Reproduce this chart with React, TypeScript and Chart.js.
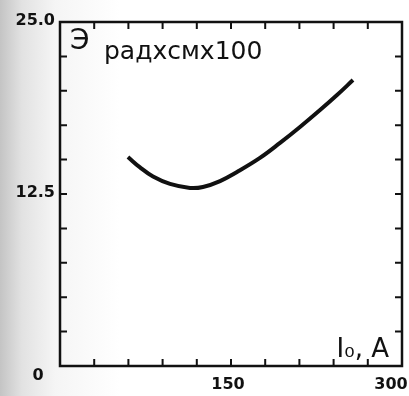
import React, { useEffect, useRef } from "react";
import { Chart, registerables } from "chart.js";

Chart.register(...registerables);

// Data (I0 in A, Э in рад×см×100)
const currentA = [59.6, 70.2, 81.6, 96.5, 114.0, 125.4, 140.4, 155.3, 175.4, 193.0, 210.5, 228.1, 243.0, 257.0];
const effectValues = [15.19, 14.43, 13.77, 13.23, 12.94, 13.01, 13.44, 14.1, 15.12, 16.21, 17.37, 18.6, 19.69, 20.78];

const xTickValues = [0, 30, 60, 90, 120, 150, 180, 210, 240, 270, 300];
const xTickLabels = ["0", "", "", "", "", "150", "", "", "", "", "300"];
const yTickValues = [0, 2.5, 5, 7.5, 10, 12.5, 15, 17.5, 20, 22.5, 25];
const yTickLabels = ["", "", "", "", "", "12.5", "", "", "", "", "25.0"];

const yAxisTitle = "радхсмх100";
const yAxisSymbol = "Э";
const xAxisTitle = "I₀, A";

const frame = {
  id: "frame",
  afterDraw(chart: any) {
    const ctx = chart.ctx;
    const a = chart.chartArea;
    const xs = chart.scales.x;
    const ys = chart.scales.y;
    ctx.save();
    ctx.strokeStyle = "#111";
    ctx.lineWidth = 2.5;
    ctx.strokeRect(a.left, a.top, a.right - a.left, a.bottom - a.top);
    const tl = 7;
    ctx.lineWidth = 2;
    ctx.beginPath();
    xTickValues.forEach((v, i) => {
      if (i === 0 || i === xTickValues.length - 1) return;
      const px = xs.getPixelForValue(v);
      ctx.moveTo(px, a.bottom);
      ctx.lineTo(px, a.bottom - tl);
      ctx.moveTo(px, a.top);
      ctx.lineTo(px, a.top + tl);
    });
    yTickValues.forEach((v, i) => {
      if (i === 0 || i === yTickValues.length - 1) return;
      const py = ys.getPixelForValue(v);
      ctx.moveTo(a.left, py);
      ctx.lineTo(a.left + tl, py);
      ctx.moveTo(a.right, py);
      ctx.lineTo(a.right - tl, py);
    });
    ctx.stroke();

    ctx.fillStyle = "#111";
    ctx.font = "bold 16px 'DejaVu Sans'";
    ctx.textBaseline = "middle";
    ctx.textAlign = "right";
    yTickValues.forEach((v, i) => {
      const t = yTickLabels[i];
      if (!t) return;
      ctx.fillText(t, a.left - 5, ys.getPixelForValue(v) - 1);
    });
    ctx.textAlign = "center";
    xTickValues.forEach((v, i) => {
      const t = xTickLabels[i];
      if (!t) return;
      let px = xs.getPixelForValue(v);
      let py = a.bottom + 19;
      if (v === 0) {
        px -= 22;
        py = a.bottom + 10;
      }
      if (v === 150) px -= 3;
      if (v === 300) px -= 11;
      ctx.fillText(t, px, py);
    });

    ctx.textAlign = "left";
    ctx.font = "28px 'DejaVu Sans'";
    ctx.fillText(yAxisSymbol, a.left + 10, a.top + 20);
    ctx.font = "25px 'DejaVu Sans'";
    ctx.fillText(yAxisTitle, a.left + 44, a.top + 30);
    ctx.textAlign = "right";
    ctx.font = "26px 'DejaVu Sans'";
    ctx.fillText(xAxisTitle, a.right - 13, a.bottom - 16);
    ctx.restore();
  },
};

export default function App() {
  const ref = useRef<HTMLCanvasElement>(null);
  useEffect(() => {
    if (!ref.current) return;
    const chart = new Chart(ref.current, {
      type: "line",
      data: {
        datasets: [
          {
            data: currentA.map((x, i) => ({ x, y: effectValues[i] })),
            borderColor: "#111",
            borderWidth: 4,
            pointRadius: 0,
            tension: 0.4,
            fill: false,
          },
        ],
      },
      options: {
        animation: false,
        responsive: false,
        events: [],
        layout: { padding: { left: 60, right: 7, top: 22, bottom: 30 } },
        plugins: { legend: { display: false }, tooltip: { enabled: false } },
        scales: {
          x: {
            type: "linear",
            min: 0,
            max: 300,
            grid: { display: false, drawTicks: false },
            border: { display: false },
            ticks: { display: false },
          },
          y: {
            type: "linear",
            min: 0,
            max: 25,
            grid: { display: false, drawTicks: false },
            border: { display: false },
            ticks: { display: false },
          },
        },
      },
      plugins: [frame],
    } as any);
    return () => chart.destroy();
  }, []);
  return (
    <div
      style={{
        position: "fixed",
        left: 0,
        top: 0,
        width: 409,
        height: 396,
        background: "linear-gradient(to right, #c4c4c4 0px, #e2e2e2 22px, #f5f5f5 55px, #ffffff 120px)",
      }}
    >
      <canvas ref={ref} width={409} height={396} style={{ display: "block" }} />
    </div>
  );
}
